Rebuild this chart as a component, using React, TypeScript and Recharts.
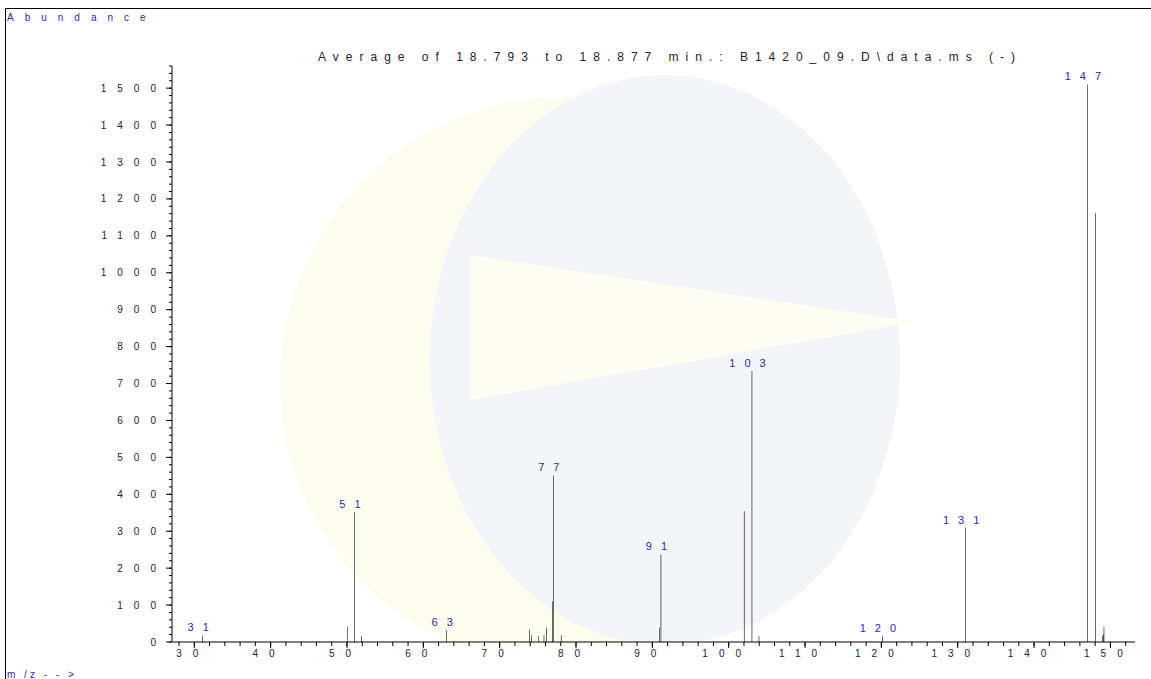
import React from 'react';
import { ComposedChart, Bar, XAxis, YAxis, LabelList } from 'recharts';

const mzValues = [31.1, 50.04, 50.98, 51.93, 63.06, 73.9, 74.15, 75.06, 75.81, 76.16, 76.9, 77.03, 78.07, 90.95, 91.13, 102.04, 103.05, 103.97, 120.14, 131.04, 146.98, 148.03, 148.94, 149.07, 149.16];
const abundances = [18, 41, 352, 16, 32, 34, 18, 16, 19, 39, 110, 451, 19, 39, 237, 354, 734, 16, 16, 310, 1510, 1162, 16, 22, 41];
const peakLabels = ['31', '', '51', '', '63', '', '', '', '', '', '', '77', '', '', '91', '', '103', '', '120', '131', '147', '', '', '', ''];

const xMajorTicks = [30, 40, 50, 60, 70, 80, 90, 100, 110, 120, 130, 140, 150];
const xMinorTicks = [28, 30, 32, 34, 36, 38, 40, 42, 44, 46, 48, 50, 52, 54, 56, 58, 60, 62, 64, 66, 68, 70, 72, 74, 76, 78, 80, 82, 84, 86, 88, 90, 92, 94, 96, 98, 100, 102, 104, 106, 108, 110, 112, 114, 116, 118, 120, 122, 124, 126, 128, 130, 132, 134, 136, 138, 140, 142, 144, 146, 148, 150, 152];
const yMajorTicks = [0, 100, 200, 300, 400, 500, 600, 700, 800, 900, 1000, 1100, 1200, 1300, 1400, 1500];
const yMinorTicks = [0, 20, 40, 60, 80, 100, 120, 140, 160, 180, 200, 220, 240, 260, 280, 300, 320, 340, 360, 380, 400, 420, 440, 460, 480, 500, 520, 540, 560, 580, 600, 620, 640, 660, 680, 700, 720, 740, 760, 780, 800, 820, 840, 860, 880, 900, 920, 940, 960, 980, 1000, 1020, 1040, 1060, 1080, 1100, 1120, 1140, 1160, 1180, 1200, 1220, 1240, 1260, 1280, 1300, 1320, 1340, 1360, 1380, 1400, 1420, 1440, 1460, 1480, 1500, 1520, 1540, 1560];

const titleText = 'Average of 18.793 to 18.877 min.: B1420_09.D\\data.ms (-)';
const yTitle = 'Abundance';
const xTitle = 'm /z - - >';

const data = mzValues.map((mz, i) => ({ mz, abundance: abundances[i], label: peakLabels[i] }));

const FONT = '"Liberation Sans", Arial, sans-serif';
const BLUE = '#2a2aa8';
const X_DOMAIN: [number, number] = [27.08, 153.22];
const Y_DOMAIN: [number, number] = [0, 1560];

const XTick = (props: any) => {
  const { x, y, payload } = props;
  return (
    <text x={x} y={y} dy={7} dx={-1.5} textAnchor="middle" fontFamily={FONT} fontSize={10} letterSpacing={11} fill="#222">
      {payload.value}
    </text>
  );
};

const YTick = (props: any) => {
  const { x, y, payload } = props;
  return (
    <text x={x} y={y} dy={3.5} dx={3} textAnchor="end" fontFamily={FONT} fontSize={10} letterSpacing={11} fill="#222">
      {payload.value}
    </text>
  );
};

const EmptyTick = () => <g />;

const PeakLabel = (props: any) => {
  const { x, y, width, value } = props;
  if (!value) return null;
  return (
    <text x={Number(x) + Number(width) / 2} y={Number(y) - 4} textAnchor="middle" fontFamily={FONT} fontSize={11} letterSpacing={9} fill={BLUE}>
      {value}
    </text>
  );
};

export default function App() {
  return (
    <div style={{ position: 'absolute', left: 0, top: 0, width: 1151, height: 679, background: '#fff', overflow: 'hidden' }}>
      <svg width={1151} height={679} style={{ position: 'absolute', left: 0, top: 0 }}>
        <defs>
          <clipPath id="wm">
            <rect x={172} y={66} width={963} height={576} />
          </clipPath>
        </defs>
        <g clipPath="url(#wm)">
          <circle cx={565} cy={382} r={285} fill="#fdfdef" />
          <ellipse cx={665} cy={360} rx={235} ry={285} fill="#f3f5f8" />
          <polygon points="470,255 915,322 470,400" fill="#fdfdf3" />
        </g>
      </svg>
      <div style={{ position: 'absolute', left: 5, top: 8, width: 1300, height: 800, borderLeft: '1px solid #000', borderTop: '1px solid #000' }} />
      <div style={{ position: 'absolute', left: 0, top: 0 }}>
        <ComposedChart width={1151} height={679} data={data} margin={{ top: 66, right: 16, bottom: 7, left: 0 }}>
          <XAxis xAxisId="zmain" type="number" dataKey="mz" domain={X_DOMAIN} ticks={xMajorTicks} height={29} tickSize={5} axisLine={false} tickLine={{ stroke: '#000' }} tick={<XTick />} allowDataOverflow interval={0} />
          <XAxis xAxisId="aminor" type="number" dataKey="mz" domain={X_DOMAIN} ticks={xMinorTicks} height={1} tick={EmptyTick} tickSize={4} axisLine={{ stroke: '#000' }} tickLine={{ stroke: '#000' }} allowDataOverflow interval={0} />
          <YAxis yAxisId="zmain" type="number" domain={Y_DOMAIN} ticks={yMajorTicks} width={171} tickSize={5} axisLine={false} tickLine={{ stroke: '#000' }} tick={<YTick />} allowDataOverflow interval={0} />
          <YAxis yAxisId="aminor" type="number" domain={Y_DOMAIN} ticks={yMinorTicks} width={1} tick={EmptyTick} tickSize={3} axisLine={{ stroke: '#000' }} tickLine={{ stroke: '#000' }} allowDataOverflow interval={0} />
          <Bar xAxisId="zmain" yAxisId="zmain" dataKey="abundance" barSize={1} fill="#111" isAnimationActive={false}>
            <LabelList dataKey="label" content={<PeakLabel />} />
          </Bar>
        </ComposedChart>
      </div>
      <svg width={1151} height={679} style={{ position: 'absolute', left: 0, top: 0, pointerEvents: 'none' }}>
        <text x={7} y={21} fontFamily={FONT} fontSize={10} letterSpacing={11} fill={BLUE}>{yTitle}</text>
        <text x={670} y={61} textAnchor="middle" fontFamily={FONT} fontSize={12} letterSpacing={7} fill="#222">{titleText}</text>
        <text x={7} y={678} fontFamily={FONT} fontSize={10} letterSpacing={3} fill={BLUE} style={{ whiteSpace: 'pre' }}>{xTitle}</text>
      </svg>
    </div>
  );
}
